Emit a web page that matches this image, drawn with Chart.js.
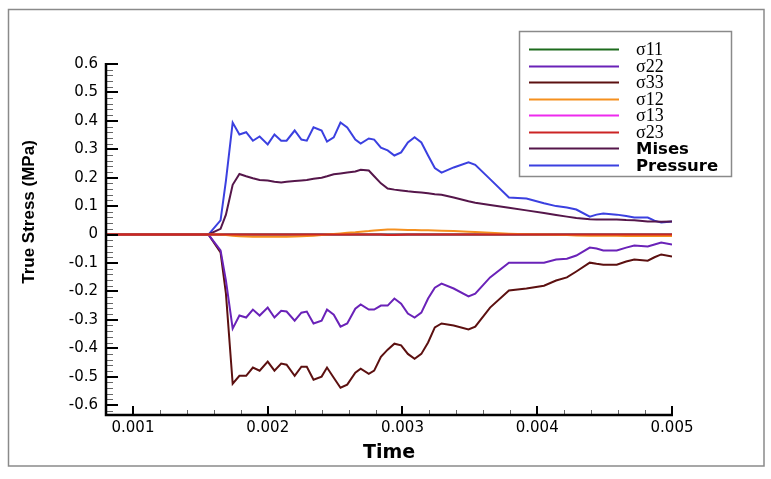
<!DOCTYPE html>
<html>
<head>
<meta charset="utf-8">
<script src="https://cdn.jsdelivr.net/npm/chart.js@4.4.1/dist/chart.umd.min.js"></script>
<style>
  html, body { margin: 0; padding: 0; background: #fff; }
  #stress { display: block; }
</style>
</head>
<body>
<canvas id="stress" width="771" height="479"></canvas>
<script>
// time steps
var time = [0.0008, 0.0015, 0.00156, 0.00165, 0.00169, 0.00174, 0.00179, 0.00184, 0.00189, 0.00194,
  0.0020, 0.00205, 0.0021, 0.00214, 0.0022, 0.00225, 0.00229, 0.00234, 0.0024, 0.00244,
  0.00249, 0.00254, 0.00259, 0.00265, 0.00269, 0.00275, 0.00279, 0.00284, 0.00289, 0.00294,
  0.00299, 0.00304, 0.00309, 0.00314, 0.00319, 0.00324, 0.00329, 0.00338, 0.00349, 0.00354,
  0.00365, 0.00379, 0.00392, 0.00405, 0.00414, 0.00422, 0.00429, 0.00439, 0.00444, 0.00449,
  0.00459, 0.00466, 0.00472, 0.00482, 0.00487, 0.00492, 0.0050];

var s11 = [0, 0, 0, 0, 0, 0, 0, 0, 0, 0,
  0, 0, 0, 0, 0, 0, 0, 0, 0, 0,
  0, 0, 0, 0, 0, 0, 0, 0, 0, 0,
  0, 0, 0, 0, 0, 0, 0, 0, 0, 0,
  0, 0, 0, 0, 0, 0, 0, 0, 0, 0,
  0, 0, 0, 0, 0, 0, 0];
var s22 = [0, 0, 0, -0.056, -0.162, -0.331, -0.285, -0.292, -0.264, -0.285,
  -0.257, -0.292, -0.268, -0.271, -0.303, -0.275, -0.271, -0.313, -0.303, -0.264,
  -0.282, -0.324, -0.313, -0.261, -0.246, -0.264, -0.264, -0.25, -0.25, -0.225,
  -0.243, -0.278, -0.292, -0.275, -0.225, -0.187, -0.173, -0.19, -0.218, -0.208,
  -0.151, -0.099, -0.099, -0.099, -0.088, -0.085, -0.074, -0.046, -0.049, -0.056,
  -0.056, -0.046, -0.039, -0.042, -0.035, -0.028, -0.035];
var s33 = [0, 0, 0, -0.063, -0.208, -0.525, -0.497, -0.497, -0.468, -0.479,
  -0.447, -0.479, -0.454, -0.458, -0.497, -0.465, -0.465, -0.511, -0.5, -0.468,
  -0.504, -0.539, -0.528, -0.486, -0.472, -0.49, -0.479, -0.43, -0.405, -0.384,
  -0.39, -0.42, -0.437, -0.42, -0.38, -0.327, -0.313, -0.32, -0.334, -0.324,
  -0.257, -0.197, -0.19, -0.18, -0.162, -0.151, -0.13, -0.099, -0.103, -0.106,
  -0.106, -0.095, -0.088, -0.092, -0.08, -0.07, -0.077];
var s12 = [0, 0, 0, 0, -0.002, -0.004, -0.006, -0.007, -0.008, -0.008,
  -0.008, -0.008, -0.008, -0.008, -0.007, -0.006, -0.005, -0.004, -0.002, 0,
  0.002, 0.004, 0.006, 0.008, 0.01, 0.012, 0.014, 0.016, 0.018, 0.018,
  0.017, 0.016, 0.016, 0.015, 0.015, 0.014, 0.013, 0.012, 0.01, 0.009,
  0.006, 0.003, 0.001, 0, -0.001, -0.002, -0.003, -0.004, -0.004, -0.004,
  -0.004, -0.005, -0.005, -0.005, -0.005, -0.005, -0.005];
var s13 = [0, 0, 0, 0, 0, 0, 0, 0, 0, 0,
  0, 0, 0, 0, 0, 0, 0, 0, 0, 0,
  0, 0, 0, 0, 0, 0, 0, 0, 0, 0,
  0, 0, 0, 0, 0, 0, 0, 0, 0, 0,
  0, 0, 0, 0, 0, 0, 0, 0, 0, 0,
  0, 0, 0, 0, 0, 0, 0];
var s23 = [0, 0, 0, 0, 0, 0, 0, 0, 0, 0,
  0, 0, 0, 0, 0, 0, 0, 0, 0, 0,
  0, 0, 0, 0, 0, 0, 0, 0, -0.002, -0.002,
  -0.001, 0, 0, 0, 0, 0, 0, 0, 0, 0,
  0, 0, 0, 0, 0, 0, 0, 0, 0, 0,
  0, 0, 0, 0, 0, 0, 0];
var mises = [0, 0, 0, 0.02, 0.07, 0.175, 0.213, 0.205, 0.198, 0.192,
  0.19, 0.186, 0.183, 0.186, 0.188, 0.19, 0.192, 0.196, 0.2, 0.205,
  0.212, 0.215, 0.218, 0.222, 0.228, 0.225, 0.205, 0.18, 0.162, 0.158,
  0.155, 0.152, 0.15, 0.148, 0.145, 0.142, 0.14, 0.13, 0.117, 0.112,
  0.104, 0.094, 0.085, 0.076, 0.069, 0.063, 0.058, 0.054, 0.053, 0.053,
  0.053, 0.051, 0.05, 0.046, 0.046, 0.045, 0.046];
var pressure = [0, 0, 0, 0.05, 0.19, 0.394, 0.352, 0.36, 0.33, 0.345,
  0.317, 0.352, 0.33, 0.33, 0.366, 0.334, 0.33, 0.377, 0.366, 0.327,
  0.342, 0.394, 0.377, 0.334, 0.32, 0.338, 0.334, 0.306, 0.296, 0.278,
  0.289, 0.324, 0.342, 0.324, 0.278, 0.234, 0.218, 0.236, 0.254, 0.245,
  0.195, 0.13, 0.127, 0.11, 0.1, 0.095, 0.088, 0.063, 0.07, 0.074,
  0.07, 0.065, 0.06, 0.06, 0.049, 0.042, 0.046];

var xTicks = [0.001, 0.002, 0.003, 0.004, 0.005];
var yTicks = [-0.6, -0.5, -0.4, -0.3, -0.2, -0.1, 0, 0.1, 0.2, 0.3, 0.4, 0.5, 0.6];

var names = ['σ11', 'σ22', 'σ33', 'σ12', 'σ13', 'σ23', 'Mises', 'Pressure'];
var colors = ['#1d6b1d', '#6a22b8', '#5c1010', '#f5901e', '#ee2aee', '#cc2424', '#55164a', '#3b40e0'];
var series = [s11, s22, s33, s12, s13, s23, mises, pressure];
var drawOrder = [4, 2, 2, 1, 4, 0, 2, 2];

function pts(arr) {
  return arr.map(function (v, i) { return { x: time[i], y: v }; });
}

var datasets = series.map(function (arr, i) {
  return {
    label: names[i],
    data: pts(arr),
    borderColor: colors[i],
    backgroundColor: colors[i],
    borderWidth: 2,
    pointRadius: 0,
    tension: 0,
    order: drawOrder[i]
  };
});

// frame, inward ticks, y title and the boxed legend
var decor = {
  id: 'decor',
  beforeDraw: function (chart) {
    var c = chart.ctx;
    c.save();
    c.fillStyle = '#fff';
    c.fillRect(0, 0, chart.width, chart.height);
    c.strokeStyle = '#8a8a8a';
    c.lineWidth = 1.5;
    c.strokeRect(8.5, 9.5, 755.5, 456.5);
    c.restore();
  },
  afterDatasetsDraw: function (chart) {
    var c = chart.ctx;
    var xs = chart.scales.x, ys = chart.scales.y;
    var a = chart.chartArea;
    c.save();

    // minor ticks
    c.strokeStyle = '#666';
    c.lineWidth = 1;
    c.beginPath();
    for (var k = -32; k <= 30; k++) {
      var v = k * 0.02;
      if (k % 5 === 0) continue;
      var py = Math.round(ys.getPixelForValue(v)) + 0.5;
      if (py < a.top || py > a.bottom) continue;
      c.moveTo(a.left, py); c.lineTo(a.left + 7, py);
    }
    for (var m = 5; m <= 25; m++) {
      if (m % 5 === 0) continue;
      var px = Math.round(xs.getPixelForValue(m * 0.0002)) + 0.5;
      c.moveTo(px, a.bottom); c.lineTo(px, a.bottom - 5);
    }
    c.stroke();

    // major ticks
    c.strokeStyle = '#000';
    c.lineWidth = 2;
    c.beginPath();
    yTicks.forEach(function (v) {
      var py = Math.round(ys.getPixelForValue(v));
      c.moveTo(a.left, py); c.lineTo(a.left + 12, py);
    });
    xTicks.forEach(function (v) {
      var px = Math.round(xs.getPixelForValue(v));
      c.moveTo(px, a.bottom); c.lineTo(px, a.bottom - 9);
    });
    c.stroke();

    // axis lines
    c.lineWidth = 2.5;
    c.beginPath();
    c.moveTo(a.left, a.top - 1);
    c.lineTo(a.left, a.bottom);
    c.lineTo(a.right + 1, a.bottom);
    c.stroke();

    // y axis title
    c.save();
    c.translate(29, 212);
    c.rotate(-Math.PI / 2);
    c.fillStyle = '#000';
    c.font = 'bold 17px "Liberation Sans Narrow", "Liberation Sans"';
    c.textAlign = 'center';
    c.textBaseline = 'middle';
    c.fillText('True Stress (MPa)', 0, 0);
    c.restore();

    // legend
    c.fillStyle = '#fff';
    c.fillRect(519.5, 31.5, 212, 145);
    c.strokeStyle = '#8a8a8a';
    c.lineWidth = 1.5;
    c.strokeRect(519.5, 31.5, 212, 145);
    var rowY = 49;
    chart.data.datasets.forEach(function (ds, i) {
      var y = Math.round(rowY + i * 16.5) + 0.5;
      c.strokeStyle = ds.borderColor;
      c.lineWidth = 2;
      c.beginPath();
      c.moveTo(529, y); c.lineTo(619, y);
      c.stroke();
      c.fillStyle = '#000';
      c.textAlign = 'left';
      c.textBaseline = 'middle';
      c.font = i < 6 ? '18px "Liberation Serif"' : 'bold 16.5px "DejaVu Sans"';
      c.fillText(ds.label, 636, y + 1);
    });
    c.restore();
  }
};

var ctx = document.getElementById('stress').getContext('2d');
var chart = new Chart(ctx, {
  type: 'line',
  data: { datasets: datasets },
  plugins: [decor],
  options: {
    responsive: false,
    animation: false,
    devicePixelRatio: 1,
    layout: { padding: { left: 0, right: 99, top: 64, bottom: 0 } },
    plugins: {
      legend: { display: false },
      tooltip: { enabled: false }
    },
    scales: {
      x: {
        type: 'linear',
        min: 0.0008,
        max: 0.005,
        grid: { display: false, drawTicks: false },
        border: { display: false },
        afterBuildTicks: function (scale) {
          scale.ticks = xTicks.map(function (v) { return { value: v }; });
        },
        afterFit: function (scale) { scale.height = 64; },
        ticks: {
          padding: 4,
          maxRotation: 0,
          color: '#000',
          font: { family: 'DejaVu Sans', size: 15 },
          callback: function (v) { return v.toFixed(3); }
        },
        title: {
          display: true,
          text: 'Time',
          color: '#000',
          font: { family: 'DejaVu Sans', size: 19, weight: 'bold' },
          padding: { top: 0, bottom: 15 }
        }
      },
      y: {
        type: 'linear',
        min: -0.635,
        max: 0.6,
        grid: { display: false, drawTicks: false },
        border: { display: false },
        afterBuildTicks: function (scale) {
          scale.ticks = yTicks.map(function (v) { return { value: v }; });
        },
        afterFit: function (scale) { scale.width = 106; },
        ticks: {
          padding: 8,
          color: '#000',
          font: { family: 'DejaVu Sans', size: 15 },
          callback: function (v) { return Math.abs(v) < 1e-9 ? '0' : v.toFixed(1); }
        }
      }
    }
  }
});
</script>
</body>
</html>
